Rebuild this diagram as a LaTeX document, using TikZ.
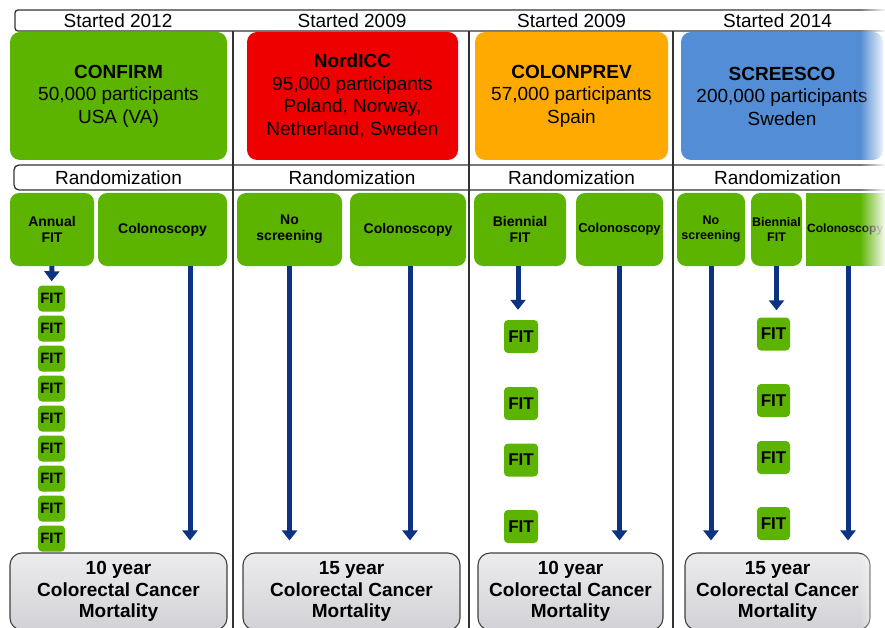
\documentclass[tikz,border=0pt]{standalone}
\usepackage{fontspec}
\setmainfont{Liberation Sans}
\usetikzlibrary{arrows.meta,fadings,calc}
\definecolor{armgreen}{RGB}{92,180,0}
\definecolor{trialred}{RGB}{238,0,0}
\definecolor{trialorange}{RGB}{255,170,0}
\definecolor{trialblue}{RGB}{83,141,213}
\definecolor{navyarrow}{RGB}{12,50,130}
\definecolor{endtop}{RGB}{236,236,238}
\definecolor{endbot}{RGB}{210,210,214}
\definecolor{divline}{RGB}{50,50,50}
\newcommand\fsbig{\fontsize{19}{22.5}\selectfont}
\newcommand\fsend{\fontsize{19}{21.5}\selectfont\bfseries}
\newcommand\fsarm{\fontsize{14}{16}\selectfont\bfseries}
\newcommand\fsarmsm{\fontsize{12.5}{15}\selectfont\bfseries}
\begin{document}
\begin{tikzpicture}[x=1pt,y=-1pt,
  rowline/.style={draw=divline, line width=1.3pt},
  hdr/.style={font=\fsbig, inner sep=0pt},
  trial/.style={rounded corners=10pt, align=center, font=\fsbig, inner sep=0pt, minimum height=128pt},
  arm/.style={fill=armgreen, rounded corners=9pt, align=center, font=\fsarm, inner sep=0pt, minimum height=73pt},
  fitsm/.style={fill=armgreen, rounded corners=4pt, font=\fontsize{15}{15}\selectfont\bfseries, inner sep=0pt, minimum width=27pt, minimum height=26pt},
  fitbig/.style={fill=armgreen, rounded corners=4pt, font=\fontsize{17}{17}\selectfont\bfseries, inner sep=0pt, minimum width=34pt, minimum height=33pt},
  endbox/.style={draw=black!75, line width=1.1pt, rounded corners=12pt, top color=endtop, bottom color=endbot, align=center, font=\fsend, inner sep=0pt, minimum height=77pt},
  arr/.style={draw=navyarrow, line width=5pt, -{Triangle[length=10pt,width=15pt]}}
]
\useasboundingbox (0,0) rectangle (885,628);
\clip (0,0) rectangle (885,628);

% header and randomization rows
\draw[rowline, rounded corners=3pt] (900,10) -- (15,10) -- (15,31) -- (900,31);
\draw[rowline, rounded corners=5pt] (900,165) -- (14,165) -- (14,190) -- (900,190);
% column dividers
\draw[rowline] (233,31) -- (233,640);
\draw[rowline] (469,31) -- (469,640);
\draw[rowline] (673,31) -- (673,640);

\node[hdr] (h1) at (118,20.5) {Started 2012};
\node[hdr] (h2) at (352,20.5) {Started 2009};
\node[hdr] (h3) at (571.5,20.5) {Started 2009};
\node[hdr] (h4) at (777.5,20.5) {Started 2014};

% trial boxes
\node[trial, fill=armgreen, minimum width=217pt] (t1) at (118.5,96) {\textbf{CONFIRM}\\50,000 participants\\USA (VA)};
\node[trial, fill=trialred, minimum width=211pt] (t2) at (352.5,96) {\textbf{NordICC}\\95,000 participants\\Poland, Norway,\\Netherland, Sweden};
\node[trial, fill=trialorange, minimum width=193pt] (t3) at (571.5,96) {\textbf{COLONPREV}\\57,000 participants\\Spain};
\node[trial, fill=trialblue, minimum width=202pt] (t4) at (782,96) {\textbf{SCREESCO}\\200,000 participants\\Sweden};

\node[hdr] (r1) at (118.5,177.5) {Randomization};
\node[hdr] (r2) at (352,177.5) {Randomization};
\node[hdr] (r3) at (571.5,177.5) {Randomization};
\node[hdr] (r4) at (777.5,177.5) {Randomization};

% arms
\node[arm, minimum width=84pt] (a1) at (52,229.5) {Annual\\FIT};
\node[arm, minimum width=129pt] (a2) at (162.5,229.5) {Colonoscopy};
\node[arm, minimum width=105pt] (a3) at (289.5,229.5) {No\\screening};
\node[arm, minimum width=116pt] (a4) at (408,229.5) {Colonoscopy};
\node[arm, minimum width=92pt] (a5) at (520,229.5) {Biennial\\FIT};
\node[arm, minimum width=87pt, font=\fontsize{13}{15}\selectfont\bfseries] (a6) at (619.5,229.5) {Colonoscopy};
\node[arm, minimum width=68pt, font=\fsarmsm] (a7) at (711,229.5) {No\\screening};
\node[arm, minimum width=51pt, font=\fsarmsm] (a8) at (776.5,229.5) {Biennial\\FIT};
\node[arm, sharp corners, anchor=west, inner xsep=1pt, text width=86pt, align=left, font=\fontsize{12}{15}\selectfont\bfseries] (a9) at (806,229.5) {Colonoscopy};

% FIT boxes, CONFIRM
\foreach \i in {1,...,9} {
  \node[fitsm] (f1\i) at (51.5,{298.5+30*(\i-1)}) {FIT};
}
% FIT boxes, COLONPREV
\node[fitbig] (f31) at (521,336.5) {FIT};
\node[fitbig] (f32) at (521,403.5) {FIT};
\node[fitbig] (f33) at (521,460) {FIT};
\node[fitbig] (f34) at (521,526.5) {FIT};
% FIT boxes, SCREESCO
\node[fitbig, minimum width=33pt] (f41) at (773.5,334) {FIT};
\node[fitbig, minimum width=33pt] (f42) at (773.5,400.5) {FIT};
\node[fitbig, minimum width=33pt] (f43) at (773.5,457.5) {FIT};
\node[fitbig, minimum width=33pt] (f44) at (773.5,523.5) {FIT};

% outcome boxes
\node[endbox, minimum width=217pt] (b1) at (118.5,591.5) {10 year\\Colorectal Cancer\\Mortality};
\node[endbox, minimum width=217pt] (b2) at (351.5,591.5) {15 year\\Colorectal Cancer\\Mortality};
\node[endbox, minimum width=185pt] (b3) at (570.5,591.5) {10 year\\Colorectal Cancer\\Mortality};
\node[endbox, minimum width=185pt] (b4) at (777.5,591.5) {15 year\\Colorectal Cancer\\Mortality};

% arrows
\draw[arr, shorten >=4pt] (a1.south) -- (f11.north);
\draw[arr, shorten >=12pt] ([xshift=27.5pt]a2.south) -- ([xshift=27.5pt]a2.south |- b1.north);
\draw[arr, shorten >=12pt] (a3.south) -- (a3.south |- b2.north);
\draw[arr, shorten >=12pt] ([xshift=2pt]a4.south) -- ([xshift=2pt]a4.south |- b2.north);
\draw[arr, shorten >=10pt] ([xshift=-2pt]a5.south) -- ([xshift=-2pt]a5.south |- f31.north);
\draw[arr, shorten >=12pt] (a6.south) -- (a6.south |- b3.north);
\draw[arr, shorten >=12pt] (a7.south) -- (a7.south |- b4.north);
\draw[arr, shorten >=7pt] (a8.south) -- (a8.south |- f41.north);
\draw[arr, shorten >=12pt] ([xshift=42pt]a9.south west) -- ([xshift=42pt]a9.south west |- b4.north);

% fade at the right edge
\fill[white, path fading=west] (860,0) rectangle (886,628);
\end{tikzpicture}
\end{document}
